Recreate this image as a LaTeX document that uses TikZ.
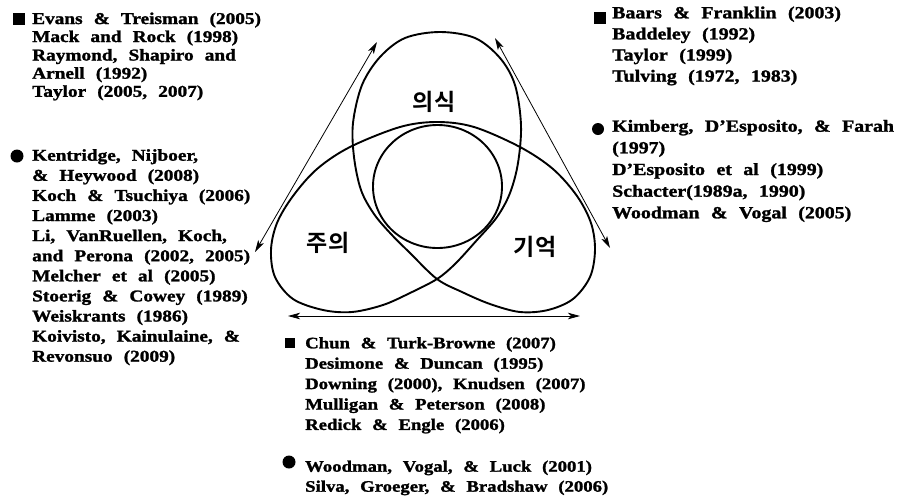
\documentclass[tikz,border=0pt]{standalone}
\usepackage{fontspec}
\setmainfont{Liberation Serif}
\newfontfamily\reffont[FakeStretch=1.17,WordSpace=2.3,FakeBold=1.5]{Liberation Serif Bold}
\newfontfamily\korfont{Noto Sans CJK KR Bold}
\usetikzlibrary{arrows.meta}

\begin{document}
\begin{tikzpicture}[x=1pt,y=-1pt,>={Stealth[length=12pt,width=6.5pt,inset=3pt]},line cap=round,line join=round,
  loopline/.style={line width=1.9pt},
  linkarrow/.style={<->,line width=0.8pt},
  ref/.style={anchor=base west,inner sep=0pt,font=\reffont\fontsize{16.5}{18}\selectfont},
  refr/.style={ref,font=\reffont\fontsize{17}{19}\selectfont},
  refb/.style={ref,font=\reffont\fontsize{16}{18}\selectfont},
  topic/.style={inner sep=0pt,font=\korfont\fontsize{23}{26}\selectfont},
  sqmark/.style={fill=black,inner sep=0pt,minimum size=11.5pt},
  dotmark/.style={circle,fill=black,inner sep=0pt,minimum size=13pt}]
\useasboundingbox (0,0) rectangle (900,499);
% trefoil of the three topics
\draw[loopline] plot[smooth cycle,tension=0.55] coordinates {
  (437,122) (400,127) (350,147) (317,169) (293,196) (277,223) (271,250) (275,277)
  (293,299) (323,310) (352,312) (383,305) (410,293) (437,279) (455,264) (477,240)
  (497,217) (510,193) (518,163) (521,125) (515,85) (500,58) (475,38) (440,32)
  (405,38) (380,57) (362,85) (353,123) (354,157) (361,190) (374,214) (391,234)
  (410,253) (437,279) (462,292) (490,304) (520,312) (548,310) (573,299) (590,277)
  (595,250) (591,223) (577,196) (553,169) (520,147) (474,127)};
\draw[loopline] (437.5,186.5) ellipse [x radius=64.5,y radius=61.5];
\node[topic] (consc) at (434,102) {의식};
\node[topic] (attn) at (328,243) {주의};
\node[topic] (memo) at (535,247) {기억};
% links
\coordinate (lefttop) at (377,42);
\coordinate (leftlow) at (255,252);
\coordinate (righttop) at (495,38);
\coordinate (rightlow) at (610,248);
\coordinate (botleft) at (288,316);
\coordinate (botright) at (580,316);
\draw[linkarrow] (leftlow) -- (lefttop);
\draw[linkarrow] (rightlow) -- (righttop);
\draw[linkarrow] (botleft) -- (botright);
% upper left references
\node[sqmark] (tlmark) at (19,19) {};
\node[ref] (tl1) at (32,24) {Evans \& Treisman (2005)};
\node[ref] (tl2) at (32,42) {Mack and Rock (1998)};
\node[ref] (tl3) at (32,60.5) {Raymond, Shapiro and};
\node[ref] (tl4) at (32,78.7) {Arnell (1992)};
\node[ref] (tl5) at (32,96.8) {Taylor (2005, 2007)};
% lower left references
\node[dotmark] (lmmark) at (17,156) {};
\node[ref] (lm1) at (32,160.7) {Kentridge, Nijboer,};
\node[ref] (lm2) at (32,180.8) {\& Heywood (2008)};
\node[ref] (lm3) at (32,200.9) {Koch \& Tsuchiya (2006)};
\node[ref] (lm4) at (32,221) {Lamme (2003)};
\node[ref] (lm5) at (32,241.1) {Li, VanRuellen, Koch,};
\node[ref] (lm6) at (32,261.2) {and Perona (2002, 2005)};
\node[ref] (lm7) at (32,281.3) {Melcher et al (2005)};
\node[ref] (lm8) at (32,301.4) {Stoerig \& Cowey (1989)};
\node[ref] (lm9) at (32,321.5) {Weiskrants (1986)};
\node[ref] (lm10) at (32,341.6) {Koivisto, Kainulaine, \&};
\node[ref] (lm11) at (32,361.7) {Revonsuo (2009)};
% upper right references
\node[sqmark] (rtmark) at (600,18) {};
\node[refr] (rt1) at (612,18.3) {Baars \& Franklin (2003)};
\node[refr] (rt2) at (612,39.4) {Baddeley (1992)};
\node[refr] (rt3) at (612,60.5) {Taylor (1999)};
\node[refr] (rt4) at (612,81.6) {Tulving (1972, 1983)};
% lower right references
\node[dotmark,minimum size=12pt] (rmmark) at (598,129) {};
\node[refr] (rm1) at (612,131.7) {Kimberg, D’Esposito, \& Farah};
\node[refr] (rm2) at (612,153.3) {(1997)};
\node[refr] (rm3) at (612,175) {D’Esposito et al (1999)};
\node[refr] (rm4) at (612,196.7) {Schacter(1989a, 1990)};
\node[refr] (rm5) at (612,218.3) {Woodman \& Vogal (2005)};
% bottom references
\node[sqmark,minimum size=10.5pt] (bmark) at (290,343) {};
\node[refb] (b1) at (305,348.3) {Chun \& Turk-Browne (2007)};
\node[refb] (b2) at (305,368.7) {Desimone \& Duncan (1995)};
\node[refb] (b3) at (305,389.1) {Downing (2000), Knudsen (2007)};
\node[refb] (b4) at (305,409.5) {Mulligan \& Peterson (2008)};
\node[refb] (b5) at (305,429.9) {Redick \& Engle (2006)};
\node[dotmark] (bdot) at (289,462) {};
\node[refb] (b6) at (305,471.7) {Woodman, Vogal, \& Luck (2001)};
\node[refb] (b7) at (305,491.7) {Silva, Groeger, \& Bradshaw (2006)};
\end{tikzpicture}
\end{document}
